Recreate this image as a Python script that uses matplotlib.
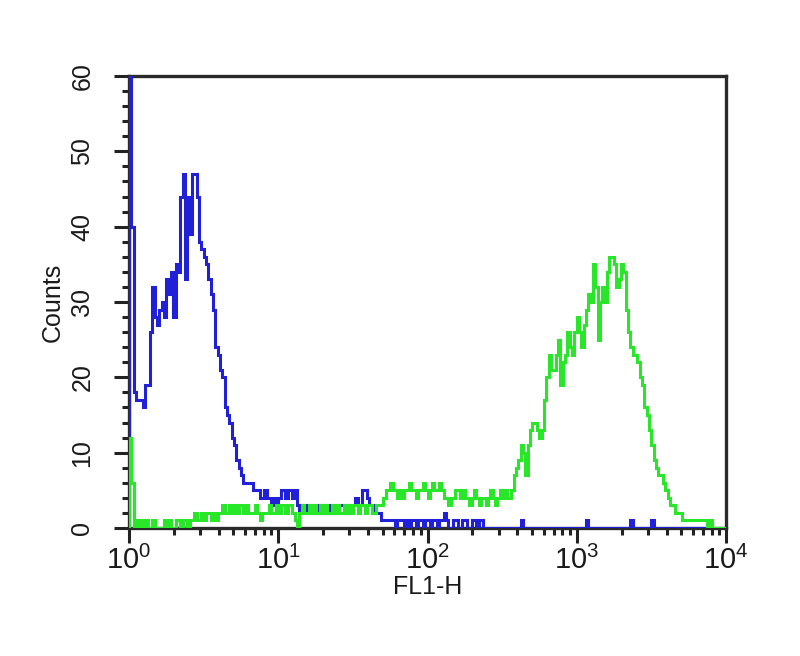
import numpy as np
import matplotlib
matplotlib.use("Agg")
import matplotlib.pyplot as plt
from matplotlib.ticker import FixedLocator, FixedFormatter, MultipleLocator, NullFormatter

# ---- data: histogram counts per channel (256 channels over 4 decades) ----
blue_counts = [
    75, 40, 18, 17, 17, 17, 16, 19, 19, 26, 32, 28, 27, 29, 30, 28,
    33, 31, 34, 28, 35, 34, 44, 47, 33, 44, 39, 47, 47, 44, 38, 37,
    36, 35, 33, 31, 29, 24, 23, 21, 20, 16, 15, 14, 12, 11, 9, 8,
    7, 6, 6, 6, 6, 5, 5, 5, 4, 4, 5, 4, 4, 3, 4, 3,
    4, 5, 5, 4, 5, 5, 4, 5, 3, 2, 3, 2, 3, 2, 3, 2,
    3, 2, 3, 2, 3, 2, 3, 2, 3, 2, 3, 3, 2, 3, 2, 3,
    3, 4, 3, 3, 5, 5, 4, 3, 3, 2, 2, 2, 1, 1, 1, 1,
    1, 1, 0, 1, 1, 1, 0, 1, 0, 1, 1, 0, 1, 1, 0, 1,
    1, 0, 1, 1, 0, 1, 1, 2, 1, 0, 0, 1, 1, 0, 0, 1,
    1, 0, 0, 1, 1, 0, 1, 1, 0, 0, 0, 0, 0, 0, 0, 0,
    0, 0, 0, 0, 0, 0, 0, 0, 1, 0, 0, 0, 0, 0, 0, 0,
    0, 0, 0, 0, 0, 0, 0, 0, 0, 0, 0, 0, 0, 0, 0, 0,
    0, 0, 0, 0, 1, 0, 0, 0, 0, 0, 0, 0, 0, 0, 0, 0,
    0, 0, 0, 0, 0, 0, 0, 1, 0, 0, 0, 0, 0, 0, 0, 0,
    1, 0, 0, 0, 0, 0, 0, 0, 0, 0, 0, 0, 0, 0, 0, 0,
    0, 0, 0, 0, 0, 0, 0, 0, 0, 0, 0, 0, 0, 0, 0, 0,
]

green_counts = [
    12, 6, 0, 1, 0, 1, 0, 1, 0, 0, 1, 0, 0, 0, 0, 1,
    0, 1, 0, 0, 1, 1, 0, 1, 1, 0, 1, 1, 2, 1, 1, 2,
    1, 2, 2, 1, 2, 1, 2, 2, 3, 2, 2, 3, 2, 3, 2, 3,
    3, 2, 3, 2, 2, 2, 3, 2, 1, 2, 2, 2, 3, 2, 2, 3,
    2, 3, 3, 2, 3, 3, 2, 1, 0, 2, 3, 2, 2, 3, 2, 3,
    2, 2, 3, 2, 3, 2, 2, 3, 2, 3, 2, 2, 3, 2, 3, 2,
    3, 3, 2, 3, 3, 2, 3, 3, 2, 2, 3, 3, 3, 4, 5, 5,
    6, 5, 5, 4, 5, 4, 5, 5, 6, 5, 5, 4, 5, 5, 6, 5,
    4, 5, 6, 5, 5, 6, 5, 4, 4, 3, 4, 4, 5, 5, 4, 5,
    4, 4, 3, 4, 5, 4, 3, 4, 4, 3, 4, 5, 4, 3, 4, 5,
    4, 5, 4, 4, 5, 7, 8, 9, 11, 10, 7, 11, 13, 14, 14, 13,
    12, 13, 17, 20, 23, 21, 21, 23, 25, 19, 22, 23, 26, 24, 23, 26,
    28, 26, 24, 27, 29, 31, 30, 35, 32, 25, 30, 32, 30, 34, 36, 36,
    35, 32, 33, 35, 34, 29, 26, 24, 23, 23, 22, 20, 19, 16, 15, 13,
    11, 9, 8, 7, 7, 6, 5, 4, 3, 3, 2, 2, 2, 1, 1, 1,
    1, 1, 1, 1, 1, 1, 1, 1, 0, 1, 0, 0, 0, 0, 0, 0,
]

n_channels = 256
n_decades = 4
x_ticks = [1, 10, 100, 1000, 10000]
x_tick_labels = [r"$\mathregular{10^{0}}$", r"$\mathregular{10^{1}}$",
                 r"$\mathregular{10^{2}}$", r"$\mathregular{10^{3}}$",
                 r"$\mathregular{10^{4}}$"]
y_ticks = [0, 10, 20, 30, 40, 50, 60]
x_label = "FL1-H"
y_label = "Counts"

# ---- style ----
plt.rcParams["font.family"] = ["Liberation Sans", "DejaVu Sans"]
plt.rcParams["mathtext.fontset"] = "custom"
plt.rcParams["mathtext.rm"] = "Liberation Sans"
plt.rcParams["mathtext.it"] = "Liberation Sans:italic"
plt.rcParams["mathtext.bf"] = "Liberation Sans:bold"

W, H = 800, 656
fig = plt.figure(figsize=(W / 100, H / 100), dpi=100)
left, right, top, bottom = 129, 726, 76, 528
ax = fig.add_axes([left / W, 1 - bottom / H, (right - left) / W, (bottom - top) / H])

edges = 10 ** (np.arange(n_channels + 1) * n_decades / n_channels)
ax.stairs(blue_counts, edges, baseline=0, color="#2020d8", lw=2.2, zorder=3)
ax.stairs(green_counts, edges, baseline=0, color="#28e628", lw=2.2, zorder=4)

ax.set_xscale("log")
ax.set_xlim(1, 10000)
ax.set_ylim(0, 60)

ax.xaxis.set_major_locator(FixedLocator(x_ticks))
ax.xaxis.set_major_formatter(FixedFormatter(x_tick_labels))
minor = [m * d for d in [1, 10, 100, 1000] for m in range(2, 10)]
ax.xaxis.set_minor_locator(FixedLocator(minor))
ax.xaxis.set_minor_formatter(NullFormatter())

ax.yaxis.set_major_locator(FixedLocator(y_ticks))
ax.yaxis.set_minor_locator(MultipleLocator(2))

ax.tick_params(axis="both", which="major", direction="out", length=11, width=2.2,
               color="#222222", labelcolor="#1a1a1a")
ax.tick_params(axis="both", which="minor", direction="out", length=5, width=2.2,
               color="#222222")
ax.tick_params(axis="x", which="major", labelsize=21, pad=2)
ax.tick_params(axis="y", which="major", labelsize=18, pad=14)
for lab in ax.get_yticklabels():
    lab.set_rotation(90)
    lab.set_va("center")

for sp in ax.spines.values():
    sp.set_linewidth(2.4)
    sp.set_color("#2a2a2a")

ax.set_xlabel(x_label, fontsize=18, color="#1a1a1a", labelpad=0)
ax.set_ylabel(y_label, fontsize=18, color="#1a1a1a", labelpad=4)

fig.savefig("out.png", dpi=100)
